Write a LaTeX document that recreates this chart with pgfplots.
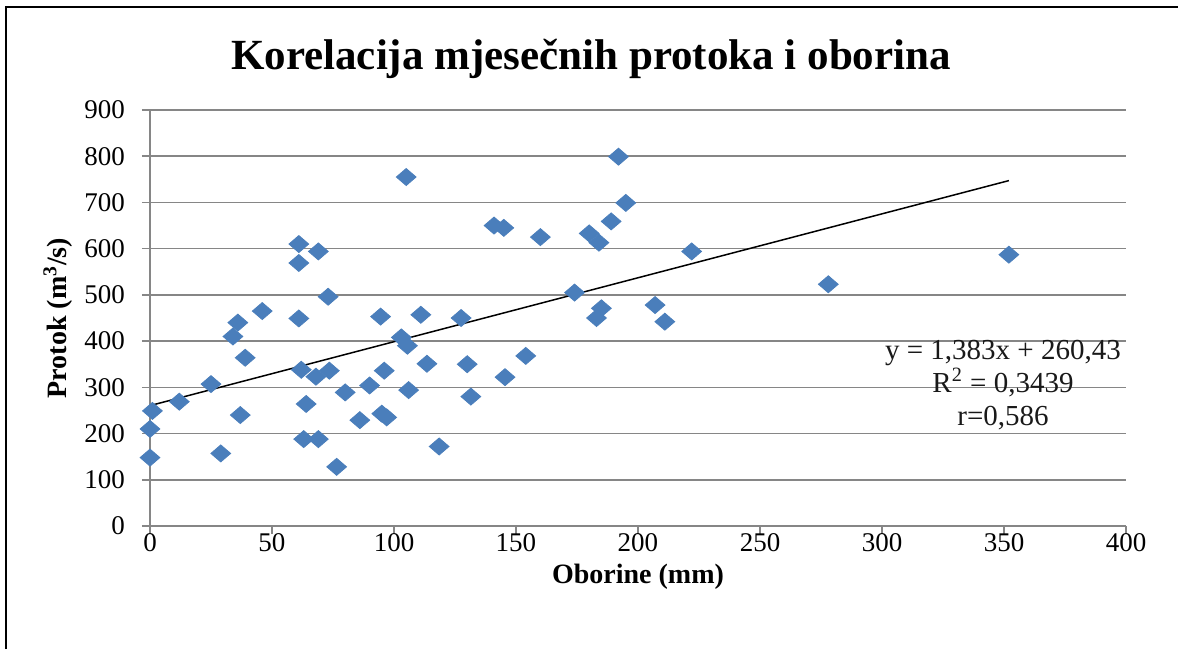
\documentclass[border=0pt]{standalone}
\usepackage{pgfplots}
\pgfplotsset{compat=1.18}
\usepackage{fontspec}
\setmainfont{Liberation Serif}
\definecolor{exblue}{RGB}{74,126,187}
\definecolor{gridgray}{RGB}{134,134,134}
\begin{document}
\begin{tikzpicture}
\useasboundingbox (0,0) rectangle (589pt,324.5pt);
\draw[line width=1pt] (2.85pt,0) -- (2.85pt,321.15pt) -- (589pt,321.15pt);
\node[font=\fontsize{21.5}{24}\selectfont\bfseries, anchor=base] at (295.5pt,289.5pt) {Korelacija mjesečnih protoka i oborina};
\begin{axis}[
  at={(75pt,61.5pt)}, anchor=south west,
  scale only axis, width=488pt, height=208pt,
  xmin=0, xmax=400, ymin=0, ymax=900,
  xtick={0,50,...,400}, ytick={0,100,...,900},
  ymajorgrids,
  grid style={gridgray, line width=0.8pt},
  axis x line*=bottom, axis y line*=left,
  axis line style={gridgray, line width=0.8pt, -},
  tick style={gridgray, line width=0.8pt},
  tick align=outside, major tick length=4pt,
  ticklabel style={font=\fontsize{13.5}{15}\selectfont, text=black},
  xticklabel style={yshift=4pt},
  yticklabel style={xshift=-5pt},
  /pgf/number format/assume math mode=true,
  xlabel={Oborine (mm)},
  ylabel={Protok (m\textsuperscript{3}/s)},
  label style={font=\fontsize{14}{16}\selectfont\bfseries},
  xlabel style={at={(rel axis cs:0.5,0)}, anchor=center, yshift=-25.5pt},
  ylabel style={at={(rel axis cs:0,0.5)}, anchor=center, yshift=46pt},
  clip=false,
]
\addplot[only marks, mark=diamond*, mark size=4.25pt,
  mark options={xscale=1.55, fill=exblue, draw=exblue}] table {
x y
0 148
0 210
1 249
12 269
25 307
29 157
34 410
36 440
37 240
39 364
46 465
61 610
61 569
61 449
62 338
63 188
64 264
68 323
69 594
69 188
73 496
73.5 336
76.5 128
80 289
86 229
90 304
94.5 453
95 243
96 336
97 235
103 408
105 755
105.5 390
106 294
111 457
113.5 351
118.5 172
127.5 450
130 350
131.5 280
141 650
145 645
145.5 322
154 368
160 625
174 505
180 633
183 450
184 613
185 471
189 659
192 799
195 699
207 478
211 442
222 594
278 523
352 587
};
\addplot[black, line width=0.75pt, no marks] coordinates {(0,260.43) (352,747.25)};
\node[align=center, font=\fontsize{14.5}{16.5}\selectfont, text=black!90] at (axis cs:349.6,305) {y = 1,383x + 260,43\\R\textsuperscript{2} = 0,3439\\r=0,586};
\end{axis}
\end{tikzpicture}
\end{document}
